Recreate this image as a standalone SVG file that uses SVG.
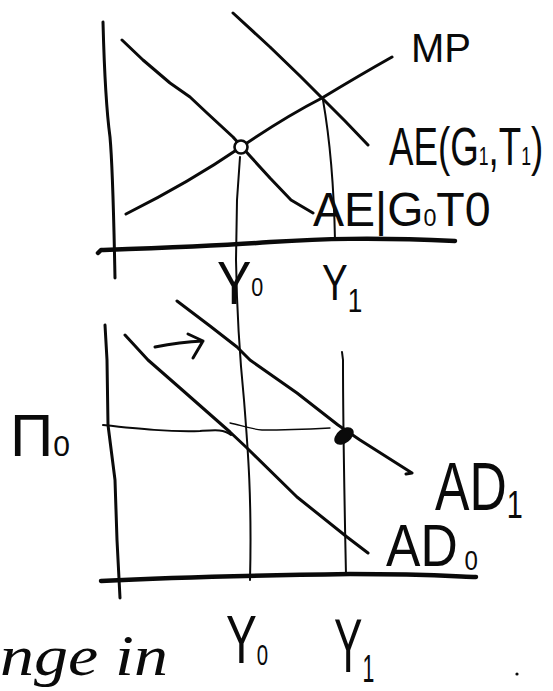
<svg xmlns="http://www.w3.org/2000/svg" width="553" height="691" viewBox="0 0 553 691">
<style>
.ln{fill:none;stroke:#0a0a0a;stroke-linecap:round;stroke-linejoin:round}
.w3{stroke-width:3}
.w2{stroke-width:2}
.w1{stroke-width:1.3}
.ax{stroke-width:4.5}
.lb{font-family:"Liberation Sans",Arial,sans-serif;fill:#0a0a0a}
.hw{font-family:"Liberation Serif","Times New Roman",serif;font-style:italic;fill:#0a0a0a}
</style>
<rect width="553" height="691" fill="#fff"/>

<g id="top-panel">
  <g id="top-axes">
    <path class="ln w3" d="M103,22 C104,60 105,100 110,137 C113,170 114,230 115,278"/>
    <path class="ln ax" d="M98,253 L101,250 C160,248 220,246 270,242 C320,239 370,237 455,241"/>
  </g>
  <g id="top-curves">
    <path id="AE0" class="ln w3" d="M122,40 L143,60 L170,83 L190,97 L207,113 L233,137 L250,156 L270,178 L291,200 L313,213"/>
    <path id="AE1" class="ln w3" d="M233,13 L270,47 L300,76 L322,98 L345,121 L368,145"/>
    <path id="MP" class="ln w3" d="M126,214 Q190,182 241,147 Q285,117 322,98 Q360,75 392,57"/>
    <path id="Y0-guide" class="ln w2" d="M240,157 L237,200 L236,260 C237,320 240,360 244,400 C248,450 252,500 250,580"/>
    <path id="Y1-guide-top" class="ln w2" d="M323,100 C330,140 334,190 335,240"/>
    <circle id="eq0" cx="241" cy="147" r="6.5" fill="#fff" stroke="#0a0a0a" stroke-width="2.6"/>
  </g>
  <g id="top-labels">
    <text class="lb" x="411" y="62" font-size="40">MP</text>
    <text class="lb" transform="translate(389,165) scale(0.68,1)" font-size="54">AE(G<tspan font-size="26">1</tspan>,T<tspan font-size="26">1</tspan>)</text>
    <text class="lb" transform="translate(313,226) scale(0.97,1)" font-size="48">AE|G<tspan font-size="24">0</tspan>T0</text>
    <text class="lb" transform="translate(217,304) scale(0.83,1)" font-size="62">Y<tspan font-size="26" dy="-8">0</tspan></text>
    <text class="lb" transform="translate(322,300) scale(0.77,1)" font-size="50">Y<tspan font-size="34" dy="12">1</tspan></text>
  </g>
</g>

<g id="bottom-panel">
  <g id="bottom-axes">
    <path class="ln w3" d="M105,325 L107,360 L108,425 L115,480 L117,540 L120,598"/>
    <path class="ln ax" d="M101,581 C180,577 280,575 350,574 C420,574 450,576 476,577"/>
  </g>
  <g id="bottom-curves">
    <path id="AD0" class="ln w3" d="M125,335 L148,360 L180,388 L230,432 L247,448 L297,497 L347,537 L368,553"/>
    <path id="AD1" class="ln w3" d="M177,301 L210,326 L237,347 L250,360 L297,393 L338,425 L360,440 L412,473 L406,474"/>
    <path id="shift-arrow" class="ln w3" d="M155,347 Q180,342 203,341 M188,334 L203,341 L193,358"/>
    <path id="pi0-line" class="ln w2" d="M103,425 C140,429 170,432 200,431 C215,430 224,429 231,435"/>
    <path id="pi0-line-thin" class="ln w1" d="M230,423 C240,425 250,429 262,430 C290,430 310,429 330,428"/>
    <path id="Y1-guide-bottom" class="ln w2" d="M342,352 L343,360 C343,420 344,480 346,575"/>
    <ellipse id="eq1" cx="344" cy="436" rx="10" ry="6" transform="rotate(-38 344 436)" fill="#0a0a0a" stroke="#0a0a0a" stroke-width="2"/>
  </g>
  <g id="bottom-labels">
    <text class="lb" x="10" y="456" font-size="60">Π<tspan font-size="30">0</tspan></text>
    <text class="lb" transform="translate(435,510) scale(0.76,1)" font-size="68">AD<tspan font-size="38" dy="8">1</tspan></text>
    <text class="lb" transform="translate(386,566) scale(0.86,1)" font-size="60">AD<tspan font-size="28" dx="8" dy="4">0</tspan></text>
    <text class="lb" transform="translate(226,663) scale(0.68,1)" font-size="68">Y<tspan font-size="30" dy="2">0</tspan></text>
    <text class="lb" transform="translate(334,672) scale(0.56,1)" font-size="76">Y<tspan font-size="38" dy="10">1</tspan></text>
    <text class="hw" x="0" y="675" font-size="56" textLength="168" lengthAdjust="spacingAndGlyphs">nge in</text>
  </g>
  <circle cx="517" cy="674" r="1.6" fill="#0a0a0a"/>
</g>
</svg>
